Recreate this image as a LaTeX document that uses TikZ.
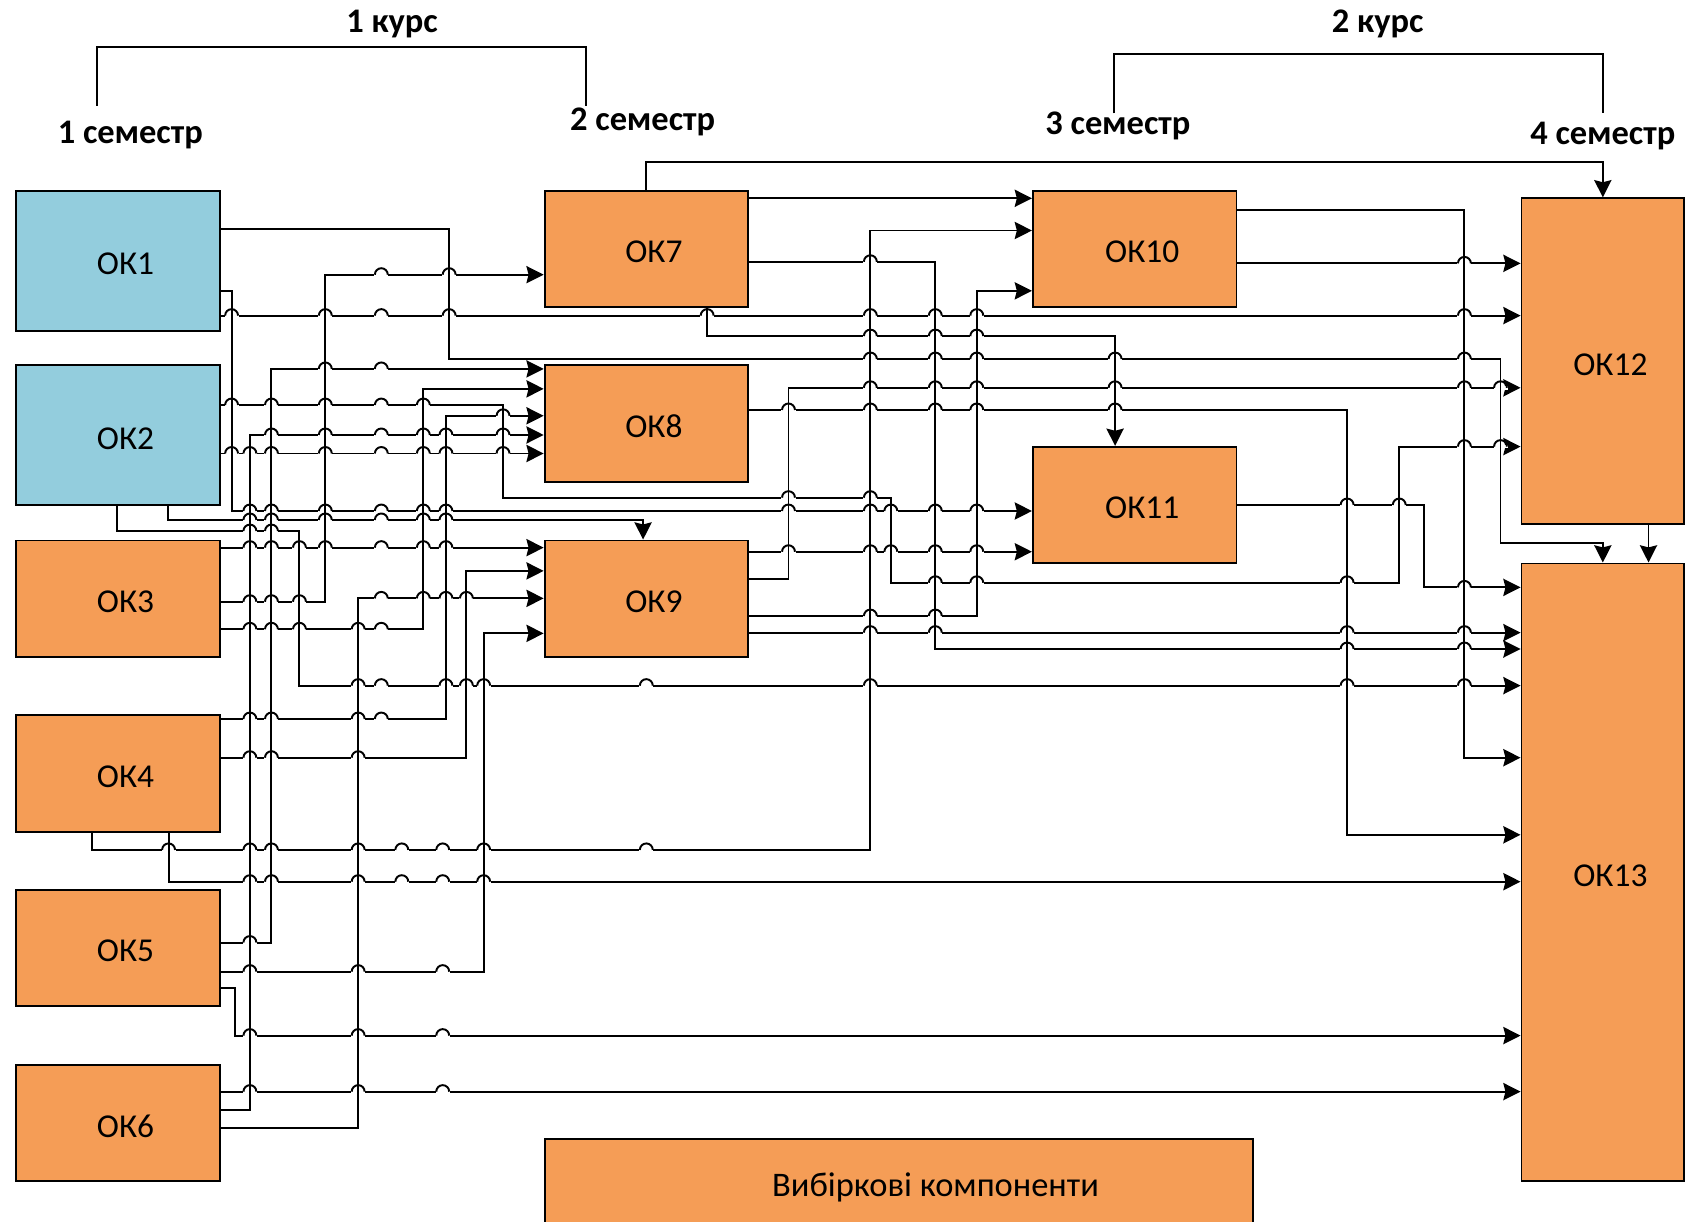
\documentclass[tikz,border=0pt]{standalone}
\usepackage{fontspec}
\setmainfont{Carlito}
\usetikzlibrary{arrows.meta}
\definecolor{okblue}{HTML}{93CDDD}
\definecolor{okorange}{HTML}{F59D56}

\begin{document}
\begin{tikzpicture}[x=0.5pt, y=-0.5pt,
    box/.style={rectangle, draw, line width=0.9pt, fill=okorange, minimum width=94.5pt, minimum height=54pt, inner sep=0pt, text height=13pt, text depth=0pt, execute at begin node={\hspace*{7pt}}, font=\fontsize{15.5}{18}\selectfont},
    head/.style={anchor=base, inner sep=0pt, font=\fontsize{16}{19}\selectfont\bfseries},
    wire/.style={line width=0.9pt},
    link/.style={line width=0.9pt, -{Stealth[length=8pt, width=8pt, inset=1pt]}}]
    \useasboundingbox (0,0) rectangle (1568,1134);
    \clip (0,0) rectangle (1568,1134);

    \node[head] (C1) at (364,30.5) {1 курс};
    \node[head] (C2) at (1279,30.5) {2 курс};
    \node[head] (S1) at (121,133.5) {1 семестр};
    \node[head] (S2) at (596.6,121.5) {2 семестр};
    \node[head] (S3) at (1037.8,125) {3 семестр};
    \node[head] (S4) at (1488,134.5) {4 семестр};
    \draw[wire] (90,98.4) |- (543.8,43.3) -- (543.8,98.4);
    \draw[wire] (1034.3,105.2) |- (1488,50.1) -- (1488,105.2);

    \node[box, fill=okblue, minimum height=65pt] (OK1) at (109.5,242) {ОК1};
    \node[box, fill=okblue, minimum height=65pt] (OK2) at (109.5,404.1) {ОК2};
    \node[box] (OK3) at (109.5,555.8) {ОК3};
    \node[box] (OK4) at (109.5,718.2) {ОК4};
    \node[box] (OK5) at (109.5,880) {ОК5};
    \node[box] (OK6) at (109.5,1042.8) {ОК6};
    \node[box] (OK7) at (600.1,231) {ОК7};
    \node[box] (OK8) at (600.1,393.2) {ОК8};
    \node[box] (OK9) at (600.1,555.8) {ОК9};
    \node[box] (OK10) at (1053.4,231) {ОК10};
    \node[box] (OK11) at (1053.4,468.8) {ОК11};
    \node[box, minimum width=75.5pt, minimum height=151.3pt] (OK12) at (1488,335.4) {ОК12};
    \node[box, minimum width=75.5pt, minimum height=286.6pt] (OK13) at (1488,809.7) {ОК13};
    \node[box, minimum width=328.8pt, minimum height=46pt, text height=11pt, text depth=3pt, execute at begin node={\hspace*{27pt}}, font=\fontsize{16}{19}\selectfont] (VK) at (834.5,1103) {Вибіркові компоненти};

    \draw[link] (OK1.east |- 0,212.6) -| (417,333.3) -| (1393,504.4) -| (OK13.north -| 1488,0);
    \draw[link] (OK1.east |- 0,270) -| (215,474.4) -- (OK11.west |- 0,474.4);
    \draw[link] (OK1.east |- 0,293) -- (OK12.west |- 0,293);

    \draw[link] (OK2.east |- 0,376) -| (467,462) -| (827,541) -| (1299,414.6) -- (OK12.west |- 0,414.6);
    \draw[link] (OK2.east |- 0,421) -- (OK8.west |- 0,421);
    \draw[link] (OK2.south -| 156,0) |- (597,482.7) -- (OK9.north -| 597,0);
    \draw[link] (OK2.south -| 109,0) |- (278,493) |- (OK13.west |- 0,636.5);

    \draw[link] (OK3.east |- 0,508.4) -- (OK9.west |- 0,508.4);
    \draw[link] (OK3.east |- 0,558.6) -| (302,255) -- (OK7.west |- 0,255);
    \draw[link] (OK3.east |- 0,584.2) -| (393,361) -- (OK8.west |- 0,361);

    \draw[link] (OK4.east |- 0,667.5) -| (414,386) -- (OK8.west |- 0,386);
    \draw[link] (OK4.east |- 0,703.4) -| (433,530) -- (OK9.west |- 0,530);
    \draw[link] (OK4.south -| 85.5,0) |- (808,789) |- (OK10.west |- 0,214);
    \draw[link] (OK4.south -| 156.5,0) |- (OK13.west |- 0,818.5);

    \draw[link] (OK5.east |- 0,875) -| (252,342.5) -- (OK8.west |- 0,342.5);
    \draw[link] (OK5.east |- 0,902) -| (449,588) -- (OK9.west |- 0,588);
    \draw[link] (OK5.east |- 0,917.5) -| (218,961.4) -- (OK13.west |- 0,961.4);

    \draw[link] (OK6.east |- 0,1013.4) -- (OK13.west |- 0,1013.4);
    \draw[link] (OK6.east |- 0,1030.4) -| (232,403.8) -- (OK8.west |- 0,403.8);
    \draw[link] (OK6.east |- 0,1047.4) -| (332.5,555.5) -- (OK9.west |- 0,555.5);

    \draw[link] (OK7.north) |- (1488,150.7) -- (OK12.north);
    \draw[link] (OK7.east |- 0,184.1) -- (OK10.west |- 0,184.1);
    \draw[link] (OK7.east |- 0,243) -| (868.3,602.5) -- (OK13.west |- 0,602.5);
    \draw[link] (OK7.south -| 656.5,0) |- (1035.2,312) -- (OK11.north -| 1035.2,0);

    \draw[link] (OK8.east |- 0,380.6) -| (1250.6,775) -- (OK13.west |- 0,775);

    \draw[link] (OK9.east |- 0,512.2) -- (OK11.west |- 0,512.2);
    \draw[link] (OK9.east |- 0,537.5) -| (732,360) -- (OK12.west |- 0,360);
    \draw[link] (OK9.east |- 0,571.9) -| (906.8,270) -- (OK10.west |- 0,270);
    \draw[link] (OK9.east |- 0,587.3) -- (OK13.west |- 0,587.3);

    \draw[link] (OK10.east |- 0,195) -| (1359.5,703.4) -- (OK13.west |- 0,703.4);
    \draw[link] (OK10.east |- 0,244.5) -- (OK12.west |- 0,244.5);

    \draw[link] (OK11.east |- 0,468.8) -| (1322,545.3) -- (OK13.west |- 0,545.3);

    \draw[link] (OK12.south -| 1530.4,0) -- (OK13.north -| 1530.4,0);

    \foreach \y/\xs in {333.3/{808,868.3,906.8,1035.2,1359.5},
        474.4/{232,252,302,393,414,732,808,827,868.3,906.8},
        293/{215,302,417,656.5,808,868.3,906.8,1359.5},
        376/{215,252,302,393}, 462/{732,808}, 541/{868.3,906.8,1250.6},
        414.6/{1359.5,1393}, 421/{215,232,252,302,393,414,467},
        482.7/{232,252,302,393,414}, 493/{232,252},
        636.5/{332.5,414,433,449,808,1250.6,1359.5},
        508.4/{232,252,278,302,393,414}, 558.6/{232,252,278}, 255/{417},
        584.2/{232,252,278,332.5}, 667.5/{232,252,332.5}, 386/{467},
        703.4/{232,252,332.5}, 789/{156.5,232,252,332.5,449},
        818.5/{232,252,332.5,449}, 875/{232}, 342.5/{302}, 902/{232,332.5},
        961.4/{232,332.5}, 1013.4/{232,332.5}, 403.8/{252,302,393,414,467},
        555.5/{393,414,433}, 243/{808}, 602.5/{1250.6,1359.5},
        312/{808,868.3,906.8}, 380.6/{732,808,868.3,906.8,1035.2},
        512.2/{732,808,827,868.3,906.8}, 360/{808,868.3,906.8,1035.2,1359.5,1393},
        571.9/{808,868.3}, 587.3/{808,868.3,1250.6,1359.5}, 244.5/{1359.5},
        468.8/{1250.6,1299}, 545.3/{1359.5}}
        \foreach \x in \xs {
            \fill[white] (\x-6.5,\y-1.6) rectangle (\x+6.5,\y+1.6);
            \draw[wire] (\x,\y-3) -- (\x,\y+3);
            \draw[wire] (\x-6,\y) arc[start angle=180, end angle=0, radius=3pt];
        };

    \foreach \x/\ys in {354/{255,293,342.5,376,403.8,421,474.4,482.7,508.4,555.5,584.2,636.5,667.5},
        600/{636.5,789}, 373/{789,818.5}, 411/{789,818.5,902,961.4,1013.4}}
        \foreach \y in \ys {
            \fill[white] (\x-6.5,\y-1.6) rectangle (\x+6.5,\y+1.6);
            \draw[wire] (\x-6,\y) arc[start angle=180, end angle=0, radius=3pt];
        };
\end{tikzpicture}
\end{document}
